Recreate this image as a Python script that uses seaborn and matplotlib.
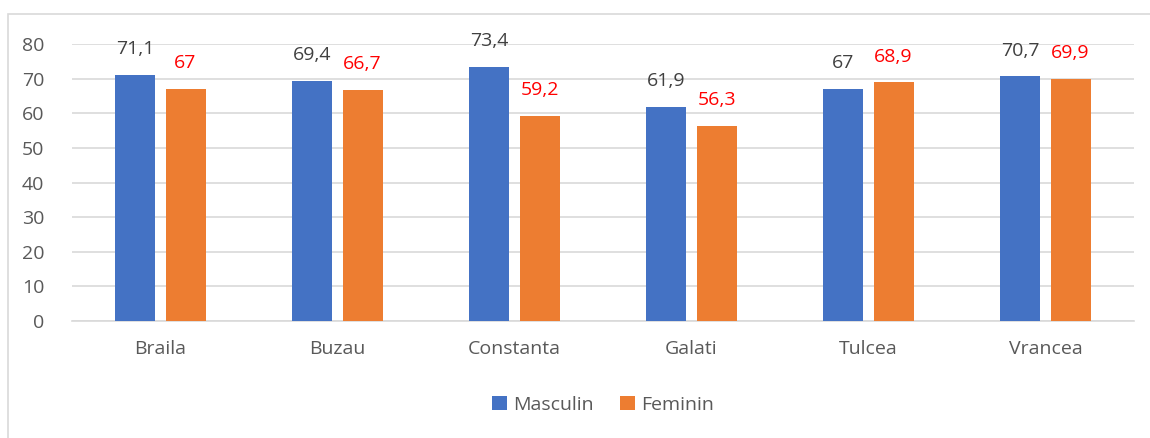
import matplotlib
matplotlib.use('Agg')
import matplotlib.pyplot as plt
import seaborn as sns
import pandas as pd
from matplotlib.patches import Rectangle

# Data
judete = ['Braila', 'Buzau', 'Constanta', 'Galati', 'Tulcea', 'Vrancea']
masculin = [71.1, 69.4, 73.4, 61.9, 67.0, 70.7]
feminin = [67.0, 66.7, 59.2, 56.3, 68.9, 69.9]
serii = ['Masculin', 'Feminin']
culori = ['#4472C4', '#ED7D31']
culori_etichete = ['#404040', '#FF0000']

df = pd.DataFrame({
    'judet': judete * 2,
    'valoare': masculin + feminin,
    'serie': ['Masculin'] * len(judete) + ['Feminin'] * len(judete),
})

sns.set_theme(style='white')
plt.rcParams['font.family'] = ['Open Sans', 'DejaVu Sans']

fig = plt.figure(figsize=(11.5, 4.38), dpi=100)
ax = fig.add_axes([72 / 1150, 1 - 321 / 438, (1134 - 72) / 1150, (321 - 44) / 438])

# Chart frame
fig.patches.append(Rectangle((8 / 1150, -0.1), 1.2, 1 - 14 / 438 + 0.1,
                             transform=fig.transFigure, fill=False,
                             edgecolor='#D9D9D9', linewidth=1.2, zorder=0))

sns.barplot(data=df, x='judet', y='valoare', hue='serie', hue_order=serii,
            palette=culori, width=0.565, gap=0.2, saturation=1, ax=ax,
            legend=True, linewidth=0, zorder=3)

# Data labels
for cont, culoare in zip(ax.containers, culori_etichete):
    etichete = [('%g' % b.get_height()).replace('.', ',') for b in cont]
    ax.bar_label(cont, labels=etichete, padding=12, color=culoare, fontsize=14)

ax.set_ylim(0, 80)
ax.set_xlim(-0.5, 5.5)
ax.set_yticks(range(0, 81, 10))
ax.yaxis.grid(True, color='#D9D9D9', linewidth=1.2, zorder=0)
ax.set_axisbelow(True)
for s in ['top', 'right', 'left']:
    ax.spines[s].set_visible(False)
ax.spines['bottom'].set_color('#D9D9D9')
ax.spines['bottom'].set_linewidth(1.2)
ax.tick_params(axis='both', length=0, colors='#595959', labelsize=14)
ax.tick_params(axis='x', pad=14)
ax.tick_params(axis='y', pad=20)
ax.set_xlabel('')
ax.set_ylabel('')

# Legend at the bottom
ax.legend(loc='center', bbox_to_anchor=(0.5, (321 - 405) / (321 - 44)),
          ncol=2, frameon=False, fontsize=14, handlelength=0.75, handleheight=0.75,
          handletextpad=0.3, columnspacing=1.4, labelcolor='#595959')

fig.savefig('out.png', dpi=100)
